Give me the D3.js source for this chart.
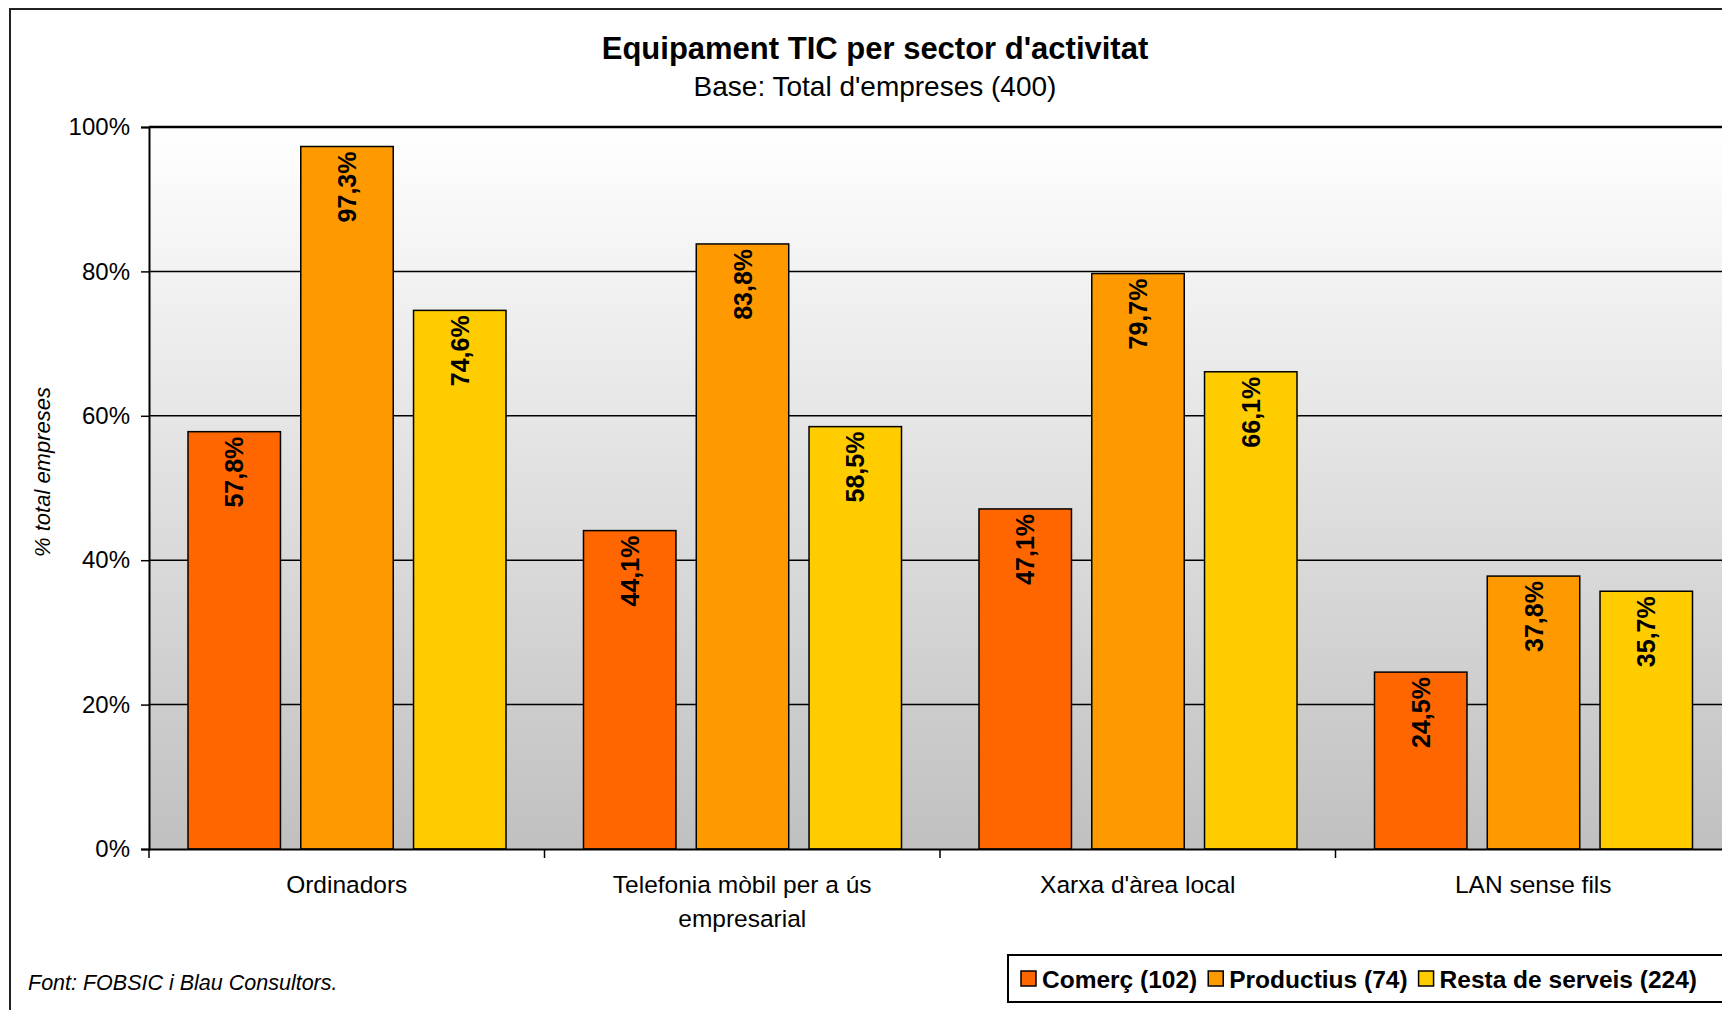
<!DOCTYPE html>
<html>
<head>
<meta charset="utf-8">
<script src="https://cdn.jsdelivr.net/npm/d3@7"></script>
<style>
  body { margin: 0; background: #fff; }
  text { font-family: "Liberation Sans", Arial, sans-serif; fill: #000; }
</style>
</head>
<body>
<svg></svg>
<script>
const categories = ['Ordinadors', 'Telefonia mòbil per a ús\nempresarial', "Xarxa d'àrea local", 'LAN sense fils'];
const series = ['Comerç (102)', 'Productius (74)', 'Resta de serveis (224)'];
const comerc = [57.8, 44.1, 47.1, 24.5];
const productius = [97.3, 83.8, 79.7, 37.8];
const resta = [74.6, 58.5, 66.1, 35.7];
const yTicks = [0, 20, 40, 60, 80, 100];
const colors = ['#ff6600', '#ff9900', '#ffcc00'];

const width = 1722;
const height = 1010;
const plot = {left: 149, top: 127, right: 1731, bottom: 849};

const svg = d3.select('svg')
    .attr('width', width)
    .attr('height', height);

const defs = svg.append('defs');
const grad = defs.append('linearGradient')
    .attr('id', 'bg')
    .attr('x1', 0).attr('y1', 0).attr('x2', 0).attr('y2', 1);
grad.append('stop').attr('offset', '0%').attr('stop-color', '#ffffff');
grad.append('stop').attr('offset', '100%').attr('stop-color', '#c0c0c0');

// outer frame (runs off the right/bottom edge like the original)
svg.append('rect')
    .attr('x', 10).attr('y', 9)
    .attr('width', 1760).attr('height', 1040)
    .attr('fill', '#fff')
    .attr('stroke', '#222')
    .attr('stroke-width', 2);

const x0 = d3.scaleBand()
    .domain(categories)
    .range([plot.left, plot.right]);

const x1 = d3.scaleBand()
    .domain(series)
    .range([39, 357])
    .paddingInner(0.18);

const y = d3.scaleLinear()
    .domain([0, 100])
    .range([plot.bottom, plot.top]);

svg.append('rect')
    .attr('x', plot.left).attr('y', plot.top)
    .attr('width', plot.right - plot.left)
    .attr('height', plot.bottom - plot.top)
    .attr('fill', 'url(#bg)');

// gridlines
svg.append('g')
  .selectAll('line')
  .data(yTicks.filter(d => d > 0))
  .join('line')
    .attr('x1', plot.left).attr('x2', plot.right)
    .attr('y1', d => y(d)).attr('y2', d => y(d))
    .attr('stroke', '#000')
    .attr('stroke-width', d => d === 100 ? 2.5 : 1.5);

// titles
svg.append('text')
    .attr('x', 875).attr('y', 48)
    .attr('text-anchor', 'middle')
    .attr('dominant-baseline', 'central')
    .attr('font-size', 31)
    .attr('font-weight', 'bold')
    .text("Equipament TIC per sector d'activitat");

svg.append('text')
    .attr('x', 875).attr('y', 86)
    .attr('text-anchor', 'middle')
    .attr('dominant-baseline', 'central')
    .attr('font-size', 28)
    .text("Base: Total d'empreses (400)");

// bars
const seriesData = [comerc, productius, resta];
const rows = categories.map((c, i) => ({
  cat: c,
  vals: series.map((s, j) => ({s, j, v: seriesData[j][i]}))
}));

const groups = svg.append('g')
  .selectAll('g')
  .data(rows)
  .join('g')
    .attr('transform', d => `translate(${x0(d.cat)},0)`);

groups.selectAll('rect')
  .data(d => d.vals)
  .join('rect')
    .attr('x', d => x1(d.s))
    .attr('y', d => y(d.v))
    .attr('width', x1.bandwidth())
    .attr('height', d => y(0) - y(d.v))
    .attr('fill', d => colors[d.j])
    .attr('stroke', '#000')
    .attr('stroke-width', 1.5);

groups.selectAll('text')
  .data(d => d.vals)
  .join('text')
    .attr('transform', d => `translate(${x1(d.s) + x1.bandwidth() / 2},${y(d.v) + 5}) rotate(-90)`)
    .attr('text-anchor', 'end')
    .attr('dominant-baseline', 'central')
    .attr('font-size', 25)
    .attr('font-weight', 'bold')
    .text(d => d.v.toFixed(1).replace('.', ',') + '%');

// y axis
const yAxis = svg.append('g')
    .attr('transform', `translate(${plot.left},0)`)
    .call(d3.axisLeft(y).tickValues(yTicks).tickFormat(d => d + '%').tickSize(8).tickPadding(11));
yAxis.select('.domain').attr('stroke', '#000').attr('stroke-width', 2);
yAxis.selectAll('.tick line').attr('stroke', '#000').attr('stroke-width', 1.5);
yAxis.selectAll('.tick text')
    .attr('font-size', 24)
    .attr('font-family', '"Liberation Sans", Arial, sans-serif');

// x axis
const xAxis = svg.append('g')
    .attr('transform', `translate(0,${plot.bottom})`)
    .call(d3.axisBottom(x0).tickSize(0).tickFormat(''));
xAxis.select('.domain').attr('stroke', '#000').attr('stroke-width', 2);

svg.append('g')
  .selectAll('line')
  .data(categories)
  .join('line')
    .attr('x1', d => x0(d)).attr('x2', d => x0(d))
    .attr('y1', plot.bottom).attr('y2', plot.bottom + 9)
    .attr('stroke', '#000')
    .attr('stroke-width', 1.5);

svg.append('g')
  .selectAll('text')
  .data(categories)
  .join('text')
    .attr('x', d => x0(d) + x0.bandwidth() / 2)
    .attr('y', 884)
    .attr('text-anchor', 'middle')
    .attr('font-size', 24.5)
  .selectAll('tspan')
  .data(d => d.split('\n'))
  .join('tspan')
    .attr('x', function() { return d3.select(this.parentNode).attr('x'); })
    .attr('dy', (d, i) => i === 0 ? '0.35em' : '1.4em')
    .text(d => d);

// y axis title
svg.append('text')
    .attr('transform', 'translate(42,472) rotate(-90)')
    .attr('text-anchor', 'middle')
    .attr('dominant-baseline', 'central')
    .attr('font-size', 22)
    .attr('font-style', 'italic')
    .text('% total empreses');

// source note
svg.append('text')
    .attr('x', 28).attr('y', 983)
    .attr('dominant-baseline', 'central')
    .attr('font-size', 21.5)
    .attr('font-style', 'italic')
    .text('Font: FOBSIC i Blau Consultors.');

// legend
svg.append('rect')
    .attr('x', 1008).attr('y', 955)
    .attr('width', 800).attr('height', 47)
    .attr('fill', '#fff')
    .attr('stroke', '#000')
    .attr('stroke-width', 2);

const legend = svg.append('g');
let lx = 1021;
series.forEach((s, i) => {
  legend.append('rect')
      .attr('x', lx).attr('y', 971)
      .attr('width', 15).attr('height', 15)
      .attr('fill', colors[i])
      .attr('stroke', '#000')
      .attr('stroke-width', 1.5);
  const t = legend.append('text')
      .attr('x', lx + 21).attr('y', 979)
      .attr('dominant-baseline', 'central')
      .attr('font-size', 24.5)
      .attr('font-weight', 'bold')
      .text(s);
  lx += 21 + t.node().getComputedTextLength() + 11;
});
</script>
</body>
</html>
